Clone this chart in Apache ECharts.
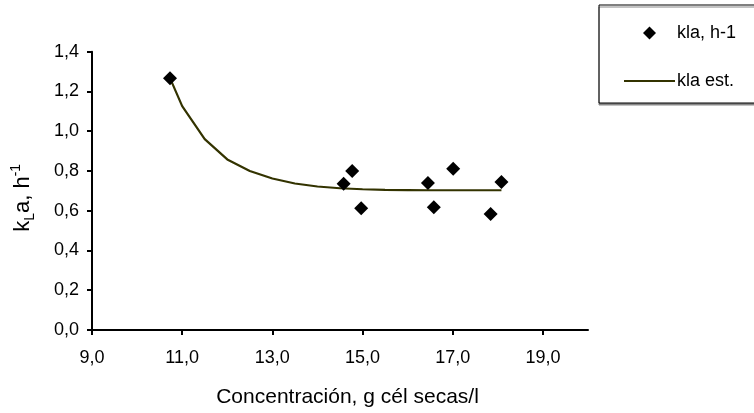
<!DOCTYPE html>
<html>
<head>
<meta charset="utf-8">
<script src="https://cdn.jsdelivr.net/npm/echarts@6/dist/echarts.min.js"></script>
<style>html,body{margin:0;padding:0;background:#fff}#c{width:754px;height:413px}</style>
</head>
<body>
<div id="c"></div>
<script>
// Measured points
const measX = [10.73, 14.58, 14.77, 14.97, 16.45, 16.58, 17.01, 17.84, 18.08];
const measY = [1.267, 0.736, 0.800, 0.612, 0.740, 0.617, 0.811, 0.584, 0.745];
// Estimated curve
const estX = [10.73, 11.0, 11.5, 12.0, 12.5, 13.0, 13.5, 14.0, 14.5, 15.0, 15.5, 16.0, 16.5, 17.0, 17.5, 18.08];
const estY = [1.267, 1.126, 0.960, 0.858, 0.800, 0.762, 0.737, 0.722, 0.713, 0.708, 0.705, 0.704, 0.703, 0.703, 0.703, 0.703];
const xTicks = [9, 11, 13, 15, 17, 19];
const seriesNames = ['kla, h-1', 'kla est.'];

const font = 'Liberation Sans, Arial, sans-serif';
const chart = echarts.init(document.getElementById('c'), null, {renderer: 'canvas'});
const fmt = v => v.toFixed(1).replace('.', ',');

chart.setOption({
  animation: false,
  backgroundColor: '#fff',
  textStyle: {fontFamily: font},
  grid: {left: 92, right: 166, top: 51.7, bottom: 80, containLabel: false},
  legend: {
    orient: 'vertical',
    left: 599, top: 5,
    padding: [19, 60, 13, 25],
    itemWidth: 51, itemHeight: 13, itemGap: 30,
    symbolKeepAspect: true,
    borderColor: '#000', borderWidth: 1,
    backgroundColor: '#fff',
    shadowColor: '#888', shadowOffsetY: 2, shadowOffsetX: 0, shadowBlur: 0,
    textStyle: {fontFamily: font, fontSize: 18, color: '#000', padding: [0, 0, 0, -3]},
    data: [
      {name: seriesNames[0], icon: 'path://M0,-1L1,0L0,1L-1,0Z'},
      {name: seriesNames[1], icon: 'path://M0,0H51V2.2H0Z'}
    ]
  },
  xAxis: {
    type: 'value', min: 9, max: 20,
    name: 'Concentración, g cél secas/l',
    nameLocation: 'middle', nameGap: 57,
    nameTextStyle: {fontFamily: font, fontSize: 21, color: '#000', padding: [0, 0, 0, 15]},
    axisLine: {lineStyle: {color: '#000', width: 2}},
    axisTick: {show: true, length: 5, lineStyle: {color: '#000', width: 2}, customValues: xTicks},
    axisLabel: {fontFamily: font, fontSize: 18, color: '#000', margin: 19, customValues: xTicks, formatter: fmt},
    splitLine: {show: false}
  },
  yAxis: {
    type: 'value', min: 0, max: 1.4, interval: 0.2,
    name: '{a|k}{b|L}{a|a, h}{c|-1}',
    nameLocation: 'middle', nameGap: 55, nameRotate: 90,
    nameTextStyle: {
      fontFamily: font, fontSize: 22, color: '#000', padding: [0, 14, 0, 0],
      rich: {
        a: {fontFamily: font, fontSize: 22, color: '#000', lineHeight: 28},
        b: {fontFamily: font, fontSize: 14, color: '#000', lineHeight: 28, verticalAlign: 'bottom', padding: [9, 0, 0, 0]},
        c: {fontFamily: font, fontSize: 14, color: '#000', lineHeight: 28, verticalAlign: 'top', padding: [0, 0, 9, 0]}
      }
    },
    axisLine: {show: true, lineStyle: {color: '#000', width: 2}},
    axisTick: {show: true, length: 5, lineStyle: {color: '#000', width: 2}},
    axisLabel: {fontFamily: font, fontSize: 18, color: '#000', margin: 13, formatter: fmt},
    splitLine: {show: false}
  },
  series: [
    {
      name: seriesNames[1], type: 'line',
      data: estX.map((x, i) => [x, estY[i]]),
      symbol: 'none', smooth: false,
      lineStyle: {color: '#333300', width: 2.2},
      itemStyle: {color: '#333300'},
      z: 2
    },
    {
      name: seriesNames[0], type: 'scatter',
      data: measX.map((x, i) => [x, measY[i]]),
      symbol: 'diamond', symbolSize: 14,
      itemStyle: {color: '#000', opacity: 1},
      z: 3
    }
  ]
});
</script>
</body>
</html>
